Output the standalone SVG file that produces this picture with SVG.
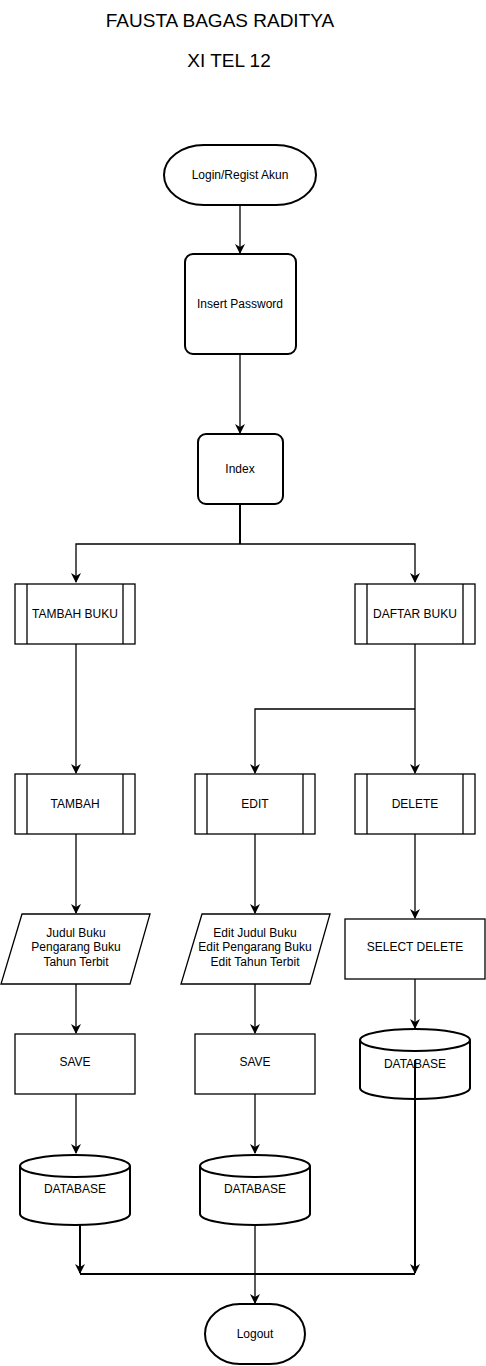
<svg xmlns="http://www.w3.org/2000/svg" width="486" height="1366" viewBox="0 0 486 1366">
<defs>
<marker id="arr" viewBox="0 0 10 10" refX="9" refY="5" markerWidth="10" markerHeight="10" markerUnits="userSpaceOnUse" orient="auto">
<path d="M0,0 L10,5 L0,10 L3,5 z" fill="#000"/>
</marker>
</defs>
<style>
.s{fill:#fff;stroke:#000;stroke-width:1.3}
.b{fill:#fff;stroke:#000;stroke-width:2}
.l{fill:none;stroke:#000;stroke-width:1.3}
.lt{fill:none;stroke:#000;stroke-width:2}
.t{font-family:"Liberation Sans",Arial,sans-serif;font-size:12px;fill:#000;text-anchor:middle;dominant-baseline:central}
.h{font-family:"Liberation Sans",Arial,sans-serif;font-size:19px;fill:#000;text-anchor:middle;dominant-baseline:central}
</style>
<rect width="486" height="1366" fill="#fff"/>
<g id="title">
<text class="h" x="220" y="20">FAUSTA BAGAS RADITYA</text>
<text class="h" x="229" y="60">XI TEL 12</text>
</g>
<g id="connectors">
<line class="l" x1="240" y1="205" x2="240" y2="253" marker-end="url(#arr)"/>
<line class="l" x1="240" y1="354" x2="240" y2="433" marker-end="url(#arr)"/>
<line class="lt" x1="240" y1="504" x2="240" y2="544"/>
<polyline class="l" points="240,544 76,544 76,582" marker-end="url(#arr)"/>
<polyline class="l" points="240,544 415,544 415,582" marker-end="url(#arr)"/>
<line class="l" x1="76" y1="644" x2="76" y2="773" marker-end="url(#arr)"/>
<line class="l" x1="415" y1="644" x2="415" y2="773" marker-end="url(#arr)"/>
<polyline class="l" points="415,709 255,709 255,773" marker-end="url(#arr)"/>
<line class="l" x1="76" y1="834" x2="76" y2="913" marker-end="url(#arr)"/>
<line class="l" x1="255" y1="834" x2="255" y2="913" marker-end="url(#arr)"/>
<line class="l" x1="415" y1="834" x2="415" y2="918" marker-end="url(#arr)"/>
<line class="l" x1="76" y1="984" x2="76" y2="1033" marker-end="url(#arr)"/>
<line class="l" x1="255" y1="984" x2="255" y2="1033" marker-end="url(#arr)"/>
<line class="l" x1="415" y1="979" x2="415" y2="1028" marker-end="url(#arr)"/>
<line class="l" x1="76" y1="1094" x2="76" y2="1153" marker-end="url(#arr)"/>
<line class="l" x1="255" y1="1094" x2="255" y2="1153" marker-end="url(#arr)"/>
</g>
<g id="login">
<rect class="b" x="164" y="145" width="152" height="60" rx="40" ry="30"/>
<text class="t" x="240" y="175">Login/Regist Akun</text>
</g>
<g id="insert-password">
<rect class="b" x="185" y="254" width="111" height="100" rx="8"/>
<text class="t" x="240" y="304">Insert Password</text>
</g>
<g id="index">
<rect class="b" x="198" y="434" width="85" height="70" rx="8"/>
<text class="t" x="240" y="469">Index</text>
</g>
<g id="tambah-buku">
<rect class="s" x="15" y="584" width="120" height="60"/>
<line class="s" x1="27" y1="584" x2="27" y2="644"/>
<line class="s" x1="123" y1="584" x2="123" y2="644"/>
<text class="t" x="75" y="614">TAMBAH BUKU</text>
</g>
<g id="daftar-buku">
<rect class="s" x="355" y="584" width="120" height="60"/>
<line class="s" x1="367" y1="584" x2="367" y2="644"/>
<line class="s" x1="463" y1="584" x2="463" y2="644"/>
<text class="t" x="415" y="614">DAFTAR BUKU</text>
</g>
<g id="tambah">
<rect class="s" x="15" y="774" width="120" height="60"/>
<line class="s" x1="27" y1="774" x2="27" y2="834"/>
<line class="s" x1="123" y1="774" x2="123" y2="834"/>
<text class="t" x="75" y="804">TAMBAH</text>
</g>
<g id="edit">
<rect class="s" x="195" y="774" width="120" height="60"/>
<line class="s" x1="207" y1="774" x2="207" y2="834"/>
<line class="s" x1="303" y1="774" x2="303" y2="834"/>
<text class="t" x="255" y="804">EDIT</text>
</g>
<g id="delete">
<rect class="s" x="355" y="774" width="120" height="60"/>
<line class="s" x1="367" y1="774" x2="367" y2="834"/>
<line class="s" x1="463" y1="774" x2="463" y2="834"/>
<text class="t" x="415" y="804">DELETE</text>
</g>
<g id="input-tambah">
<polygon class="s" points="22,914 150,914 130,984 1,984"/>
<text class="t" x="76" y="933">Judul Buku</text>
<text class="t" x="76" y="947">Pengarang Buku</text>
<text class="t" x="76" y="962">Tahun Terbit</text>
</g>
<g id="input-edit">
<polygon class="s" points="202,914 330,914 310,984 181,984"/>
<text class="t" x="255" y="933">Edit Judul Buku</text>
<text class="t" x="255" y="947">Edit Pengarang Buku</text>
<text class="t" x="255" y="962">Edit Tahun Terbit</text>
</g>
<g id="select-delete">
<rect class="s" x="345" y="919" width="140" height="60"/>
<text class="t" x="415" y="947">SELECT DELETE</text>
</g>
<g id="save-1">
<rect class="s" x="15" y="1034" width="120" height="60"/>
<text class="t" x="75" y="1062">SAVE</text>
</g>
<g id="save-2">
<rect class="s" x="195" y="1034" width="120" height="60"/>
<text class="t" x="255" y="1062">SAVE</text>
</g>
<g id="database-3">
<path class="b" d="M360,1040 a55,11 0 0 1 110,0 v48 a55,11 0 0 1 -110,0 z"/>
<path class="b" d="M360,1040 a55,11 0 0 0 110,0"/>
<text class="t" x="415" y="1064">DATABASE</text>
</g>
<g id="database-1">
<path class="b" d="M20,1166 a55,11 0 0 1 110,0 v48 a55,11 0 0 1 -110,0 z"/>
<path class="b" d="M20,1166 a55,11 0 0 0 110,0"/>
<text class="t" x="75" y="1189">DATABASE</text>
</g>
<g id="database-2">
<path class="b" d="M200,1166 a55,11 0 0 1 110,0 v48 a55,11 0 0 1 -110,0 z"/>
<path class="b" d="M200,1166 a55,11 0 0 0 110,0"/>
<text class="t" x="255" y="1189">DATABASE</text>
</g>
<g id="connectors-end">
<line class="lt" x1="415" y1="1060" x2="415" y2="1273" marker-end="url(#arr)"/>
<line class="lt" x1="80" y1="1225" x2="80" y2="1273" marker-end="url(#arr)"/>
<line class="lt" x1="80" y1="1274" x2="415" y2="1274"/>
<line class="l" x1="255" y1="1225" x2="255" y2="1303" marker-end="url(#arr)"/>
</g>
<g id="logout">
<rect class="b" x="205" y="1304" width="100" height="60" rx="35" ry="30"/>
<text class="t" x="255" y="1334">Logout</text>
</g>
</svg>
